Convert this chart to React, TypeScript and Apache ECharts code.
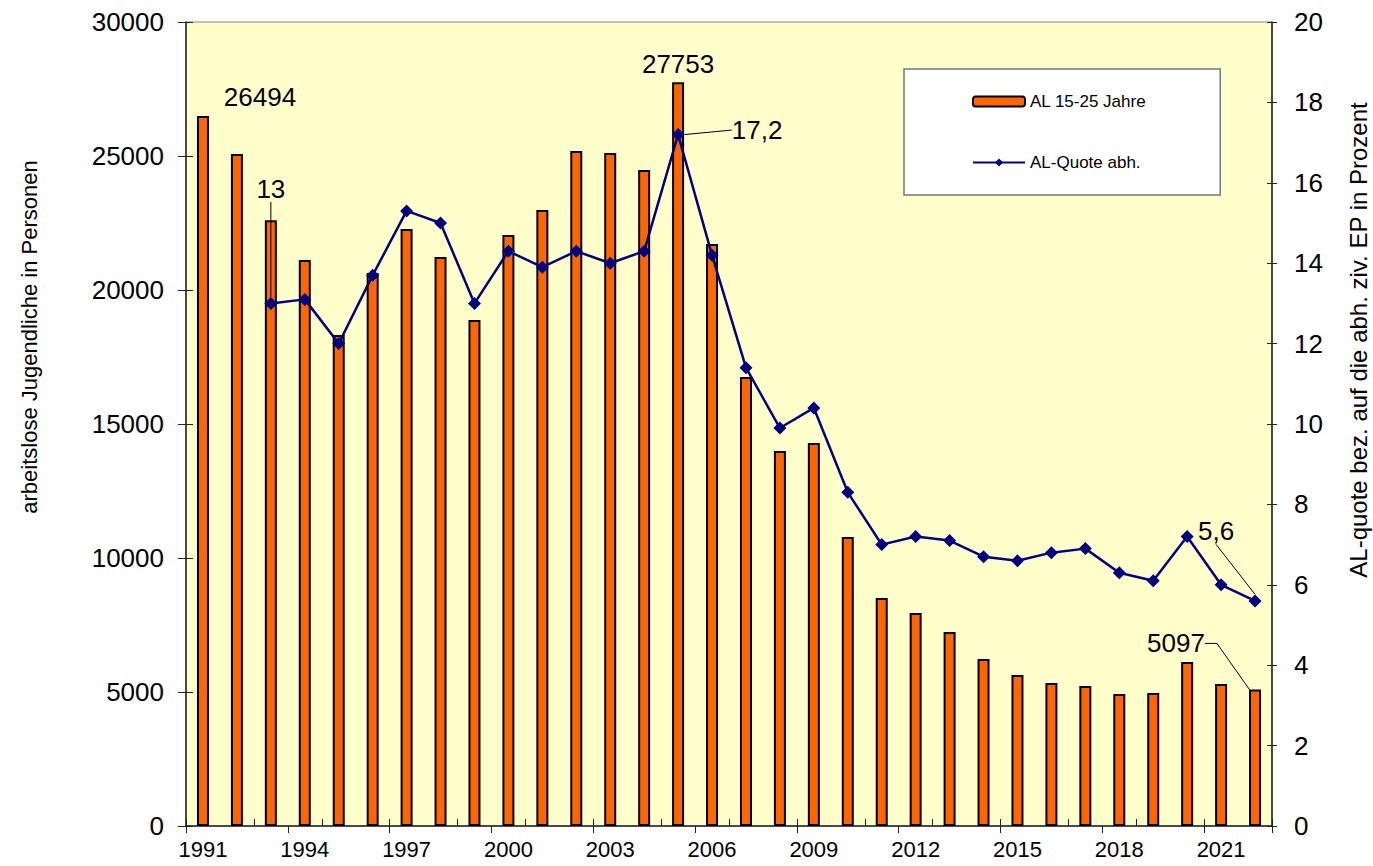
import React, { useEffect, useRef } from "react";
import * as echarts from "echarts";

const years = ["1991","1992","1993","1994","1995","1996","1997","1998","1999","2000","2001","2002","2003","2004","2005","2006","2007","2008","2009","2010","2011","2012","2013","2014","2015","2016","2017","2018","2019","2020","2021","2022"];

const jugendlicheAL = [26494, 25075, 22600, 21119, 18321, 20634, 22276, 21231, 18881, 22052, 22985, 25187, 25112, 24478, 27753, 21716, 16754, 13993, 14291, 10784, 8507, 7948, 7239, 6231, 5634, 5336, 5224, 4925, 4963, 6119, 5299, 5097];

const quote = [null, null, 13.0, 13.1, 12.0, 13.7, 15.3, 15.0, 13.0, 14.3, 13.9, 14.3, 14.0, 14.3, 17.2, 14.2, 11.4, 9.9, 10.4, 8.3, 7.0, 7.2, 7.1, 6.7, 6.6, 6.8, 6.9, 6.3, 6.1, 7.2, 6.0, 5.6];

const barLabelIdx = [0, 14, 31];
const lineLabelIdx = [2, 14, 31];

const FONT = "'Liberation Sans', Arial, sans-serif";

export default function App() {
  const ref = useRef<HTMLDivElement>(null);
  useEffect(() => {
    if (!ref.current) return;
    const chart = echarts.init(ref.current, null, { renderer: "svg" });
    const barMoves: Record<number, [number, number]> = { 0: [57, -1], 14: [0, 0], 31: [-79, -28] };
    const lineMoves: Record<number, [number, number]> = { 2: [0, -90], 14: [79, 20], 31: [-39, -45] };
    const barData = jugendlicheAL.map((v, i) =>
      barLabelIdx.includes(i)
        ? { value: v, label: { show: true }, labelLine: { show: i === 31 } }
        : v
    );
    const lineData = quote.map((v, i) =>
      lineLabelIdx.includes(i)
        ? { value: v, label: { show: true, formatter: () => String(v).replace(".", ",") }, labelLine: { show: true } }
        : v
    );
    const axisLineStyle = { color: "#222", width: 1.5 };
    chart.setOption({
      animation: false,
      textStyle: { fontFamily: FONT },
      grid: {
        left: 186, right: 101, top: 22, bottom: 40,
        outerBoundsMode: "none",
        containLabel: false,
        show: true, backgroundColor: "#FFFFCC", borderColor: "#888", borderWidth: 1,
      },
      legend: {
        orient: "vertical",
        left: 904,
        top: 69,
        backgroundColor: "#fff",
        borderColor: "#777",
        borderWidth: 1.5,
        padding: [24, 74, 24, 68],
        itemGap: 44,
        itemWidth: 52,
        itemHeight: 10,
        textStyle: { fontSize: 17, color: "#000", fontFamily: FONT },
        data: ["AL 15-25 Jahre", "AL-Quote abh."],
      },
      xAxis: [
        {
          type: "category",
          data: years,
          position: "bottom",
          axisLine: { lineStyle: axisLineStyle },
          axisTick: { show: true, length: 7, lineStyle: { color: "#222" } },
          axisLabel: { interval: 2, fontSize: 22, color: "#000", margin: 12, fontFamily: FONT },
        },
        {
          type: "category",
          data: years,
          position: "bottom",
          gridIndex: 0,
          axisLine: { show: false },
          axisTick: { show: true, inside: true, length: 7, lineStyle: { color: "#222" } },
          axisLabel: { show: false },
        },
      ],
      yAxis: [
        {
          type: "value",
          min: 0, max: 30000, interval: 5000,
          position: "left",
          name: "arbeitslose Jugendliche in Personen",
          nameLocation: "middle",
          nameGap: 146,
          nameTextStyle: { fontSize: 22, color: "#000", fontFamily: FONT, padding: [0, 0, 0, 174] },
          axisLine: { show: true, lineStyle: axisLineStyle },
          axisTick: { show: true, length: 8, lineStyle: { color: "#222" } },
          axisLabel: { fontSize: 26, color: "#000", margin: 22, fontFamily: FONT, formatter: (v: number) => String(v) },
          splitLine: { show: false },
        },
        {
          type: "value",
          min: 0, max: 20, interval: 2,
          position: "right",
          name: "AL-quote bez. auf die abh. ziv. EP in Prozent",
          nameLocation: "middle",
          nameGap: 74,
          nameRotate: 90,
          nameTextStyle: { fontSize: 24, color: "#000", fontFamily: FONT, padding: [0, 0, 0, 168] },
          axisLine: { show: true, lineStyle: axisLineStyle },
          axisTick: { show: true, length: 5, lineStyle: { color: "#222" } },
          axisLabel: { fontSize: 26, color: "#000", margin: 22, fontFamily: FONT, formatter: (v: number) => String(v) },
          splitLine: { show: false },
        },
        {
          type: "value",
          min: 0, max: 30000, interval: 5000,
          position: "left",
          axisLine: { show: false },
          axisTick: { show: true, inside: true, length: 7, lineStyle: { color: "#222" } },
          axisLabel: { show: false },
          splitLine: { show: false },
        },
        {
          type: "value",
          min: 0, max: 20, interval: 2,
          position: "right",
          axisLine: { show: false },
          axisTick: { show: true, inside: true, length: 5, lineStyle: { color: "#222" } },
          axisLabel: { show: false },
          splitLine: { show: false },
        },
      ],
      series: [
        {
          name: "AL 15-25 Jahre",
          type: "bar",
          xAxisIndex: 0,
          yAxisIndex: 0,
          data: barData,
          barWidth: 12,
          itemStyle: { color: "#FF6600", borderColor: "#000", borderWidth: 2 },
          label: { show: false, position: "top", fontSize: 26, color: "#000", fontFamily: FONT },
          labelLine: { lineStyle: { color: "#000", width: 1 }, length2: 12 },
          labelLayout: (p: any) => {
            const m = barMoves[p.dataIndex];
            return m ? { dx: m[0], dy: m[1] } : {};
          },
          z: 2,
        },
        {
          name: "AL-Quote abh.",
          type: "line",
          xAxisIndex: 0,
          yAxisIndex: 1,
          data: lineData,
          symbol: "diamond",
          symbolSize: 13,
          lineStyle: { color: "#000080", width: 2.5 },
          itemStyle: { color: "#000080" },
          label: { show: false, position: "top", fontSize: 26, color: "#000", fontFamily: FONT },
          labelLine: { lineStyle: { color: "#000", width: 1 } },
          labelLayout: (p: any) => {
            const m = lineMoves[p.dataIndex];
            return m ? { dx: m[0], dy: m[1] } : {};
          },
          z: 3,
        },
      ],
    });
    return () => chart.dispose();
  }, []);
  return <div ref={ref} style={{ width: 1373, height: 866, position: "absolute", left: 0, top: 0 }} />;
}
